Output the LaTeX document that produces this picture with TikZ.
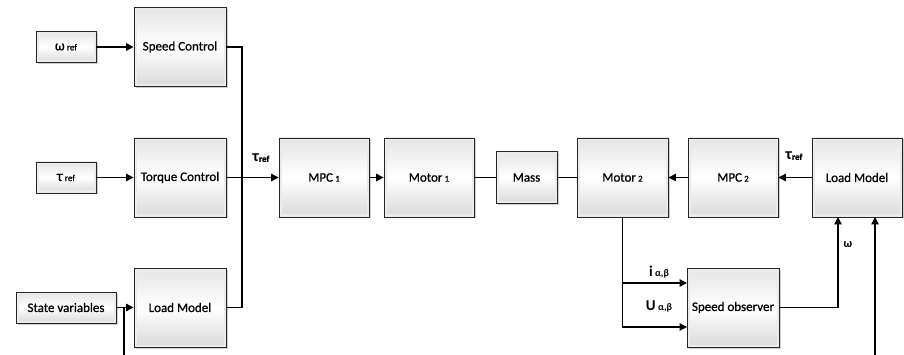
\documentclass[tikz,border=0pt]{standalone}
\usepackage{fontspec}
\setmainfont{Carlito}
\newfontfamily\boxfont{Carlito}[RawFeature={embolden=0.9}]
\usetikzlibrary{arrows.meta,shadows,calc}
% small trailing index text (ref, 1, 2, alpha-beta)
\newcommand\lbsub[1]{{\fontsize{9}{9}\selectfont #1}}

\begin{document}
\begin{tikzpicture}[x=1pt,y=-1pt,
  blk/.style={draw=black!85, line width=0.9pt,
    top color=black!10, bottom color=black!15, middle color=white,
    drop shadow={shadow xshift=1.5pt, shadow yshift=-1.5pt, opacity=0.35, fill=black!55},
    path picture={\draw[white!92!black, line width=5pt]
      (path picture bounding box.south west) rectangle (path picture bounding box.north east);},
    inner sep=0pt, font=\boxfont\fontsize{13}{15}\selectfont,
    minimum width=92pt, minimum height=79pt},
  src/.style={blk, minimum width=60pt, minimum height=31pt},
  wire/.style={line width=1.2pt, black},
  arr/.style={wire, -{Triangle[length=7.5pt,width=7.5pt]}},
  lbl/.style={inner sep=0pt, font=\bfseries\fontsize{14}{15}\selectfont}
]
\useasboundingbox (0,0) rectangle (904,355);

% left column: references and outer controllers
\node[src] (wref) at (66,47) {{\fontsize{14}{15}\selectfont ω}\,\lbsub{ref}};
\node[blk] (speed) at (180,47) {Speed Control};
\node[src] (tref) at (66,177.5) {{\fontsize{15}{15}\selectfont τ}\,\lbsub{ref}};
\node[blk] (torque) at (180,177.5) {Torque Control};
\node[src, minimum width=100pt] (statev) at (66,307.5) {State variables};
\node[blk] (loadL) at (180,307.5) {Load Model};

% main chain
\node[blk, minimum width=90pt] (mpc1) at (324,177.5) {MPC\,\lbsub{1}};
\node[blk, minimum width=90pt] (motor1) at (429,177.5) {Motor\,\lbsub{1}};
\node[blk, minimum width=61pt, minimum height=52pt] (mass) at (526.5,177.5) {Mass};
\node[blk, minimum width=91pt] (motor2) at (622.5,177.5) {Motor\,\lbsub{2}};
\node[blk, minimum width=90pt] (mpc2) at (733,177.5) {MPC\,\lbsub{2}};
\node[blk, minimum width=90pt] (loadR) at (857,177.5) {Load Model};
\node[blk] (observer) at (733,307.5) {Speed observer};

% junction points and free ends
\coordinate (jtop) at (242,47);
\coordinate (jbot) at (242,307.5);
\coordinate (fbL) at (124,355);
\coordinate (fbLj) at (124,307.5);
\coordinate (oi) at (687,283);
\coordinate (ou) at (687,327);
\coordinate (lrA) at (838,217);
\coordinate (lrB) at (875,217);
\coordinate (fbR) at (875,355);

% left side connections
\draw[arr] (wref) -- (speed);
\draw[arr] (tref) -- (torque);
\draw[arr] (statev) -- (loadL);
\draw[wire] (fbL) -- (fbLj);
\draw[wire] (speed.east) -- (jtop) -- (jbot) -- (loadL.east);
\draw[arr] (torque) -- (mpc1);
\node[lbl] (tau1) at (261,158) {{\fontsize{16}{16}\selectfont τ}\lbsub{\boxfont ref}};

% main chain connections
\draw[arr] (mpc1) -- (motor1);
\draw[wire] (motor1) -- (mass);
\draw[wire] (mass) -- (motor2);
\draw[arr] (mpc2) -- (motor2);
\draw[arr] (loadR) -- (mpc2);
\node[lbl] (tau2) at (794,156) {{\fontsize{16}{16}\selectfont τ}\lbsub{\boxfont ref}};

% observer loop
\draw[arr] (motor2.south) |- (ou);
\draw[arr] (motor2.south |- oi) -- (oi);
\node[lbl] (ilab) at (659,272) {{\fontsize{15}{15}\selectfont i}\,\lbsub{\fontsize{10}{10}\selectfont α,β}};
\node[lbl] (ulab) at (659,306) {{\fontsize{15}{15}\selectfont U}\,\lbsub{\fontsize{10}{10}\selectfont α,β}};
\draw[arr] (observer.east) -| (lrA);
\node[lbl, font=\bfseries\fontsize{12}{13}\selectfont] (wlab) at (848,245) {ω};
\draw[arr] (fbR) -- (lrB);
\end{tikzpicture}
\end{document}
